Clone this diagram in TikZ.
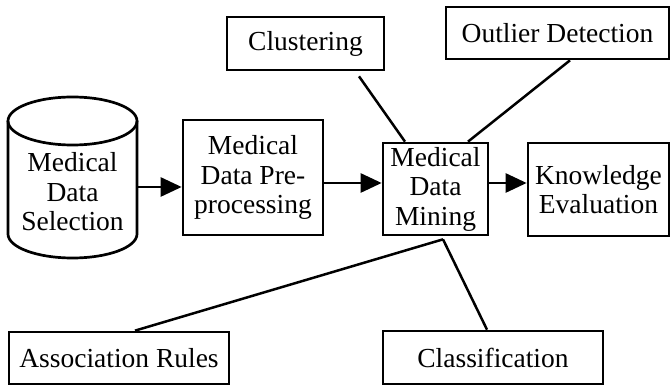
\documentclass[tikz,border=0pt]{standalone}
\usepackage{fontspec}
\setmainfont{Liberation Serif}
\usetikzlibrary{arrows.meta}
\begin{document}
\begin{tikzpicture}[x=1pt,y=1pt,
  txt/.style={font=\fontsize{27.5}{29.5}\selectfont, align=center, inner sep=0pt},
  box/.style={txt, draw, line width=2.7pt},
  conn/.style={line width=2.5pt},
  arr/.style={line width=2.7pt, -{Triangle[length=21pt,width=19pt]}}]
\useasboundingbox (0,0) rectangle (672,385);
\fill[white] (0,0) rectangle (672,385);
% cylinder
\node[inner sep=0pt, minimum width=129pt, minimum height=161pt] (cyl) at (72.5,207.5) {};
\draw[line width=2.7pt] (8,264) -- (8,151) arc[start angle=180, end angle=360, x radius=64.5pt, y radius=24pt] -- (137,264);
\draw[line width=2.7pt] (72.5,264) ellipse[x radius=64.5pt, y radius=24pt];
\node[txt] (cyltxt) at (72.5,193) {Medical\\Data\\Selection};
% boxes
\node[box, minimum width=140pt, minimum height=115pt] (pre) at (253,207.5) {Medical\\Data Pre-\\processing};
\node[box, minimum width=105pt, minimum height=92pt] (min) at (435.5,196) {Medical\\Data\\Mining};
\node[box, minimum width=141pt, minimum height=93pt] (kno) at (598.5,195.5) {Knowledge\\Evaluation};
\node[box, minimum width=223pt, minimum height=52pt] (out) at (557.5,352) {Outlier Detection};
\node[box, minimum width=157pt, minimum height=53pt] (clu) at (305.5,341.5) {Clustering};
\node[box, minimum width=220pt, minimum height=52pt] (asc) at (119,27) {Association Rules};
\node[box, minimum width=220pt, minimum height=53pt] (cls) at (493,27.5) {Classification};
% arrows
\coordinate (ya) at (0,198);
\coordinate (yb) at (0,202);
\draw[arr] (cyl.east |- ya) -- (pre.west |- ya);
\draw[arr] (pre.east |- yb) -- (min.west |- yb);
\draw[arr] (min.east |- yb) -- (kno.west |- yb);
% connectors
\coordinate (j) at ([shift={(7.5pt,-3pt)}]min.south);
\draw[conn] ([shift={(53.5pt,-5pt)}]clu.south) -- ([xshift=-30.5pt]min.north);
\draw[conn] ([xshift=12.5pt]out.south) -- ([xshift=32.5pt]min.north);
\draw[conn] (j) -- ([xshift=16pt]asc.north);
\draw[conn] (j) -- ([xshift=-6pt]cls.north);
\end{tikzpicture}
\end{document}
